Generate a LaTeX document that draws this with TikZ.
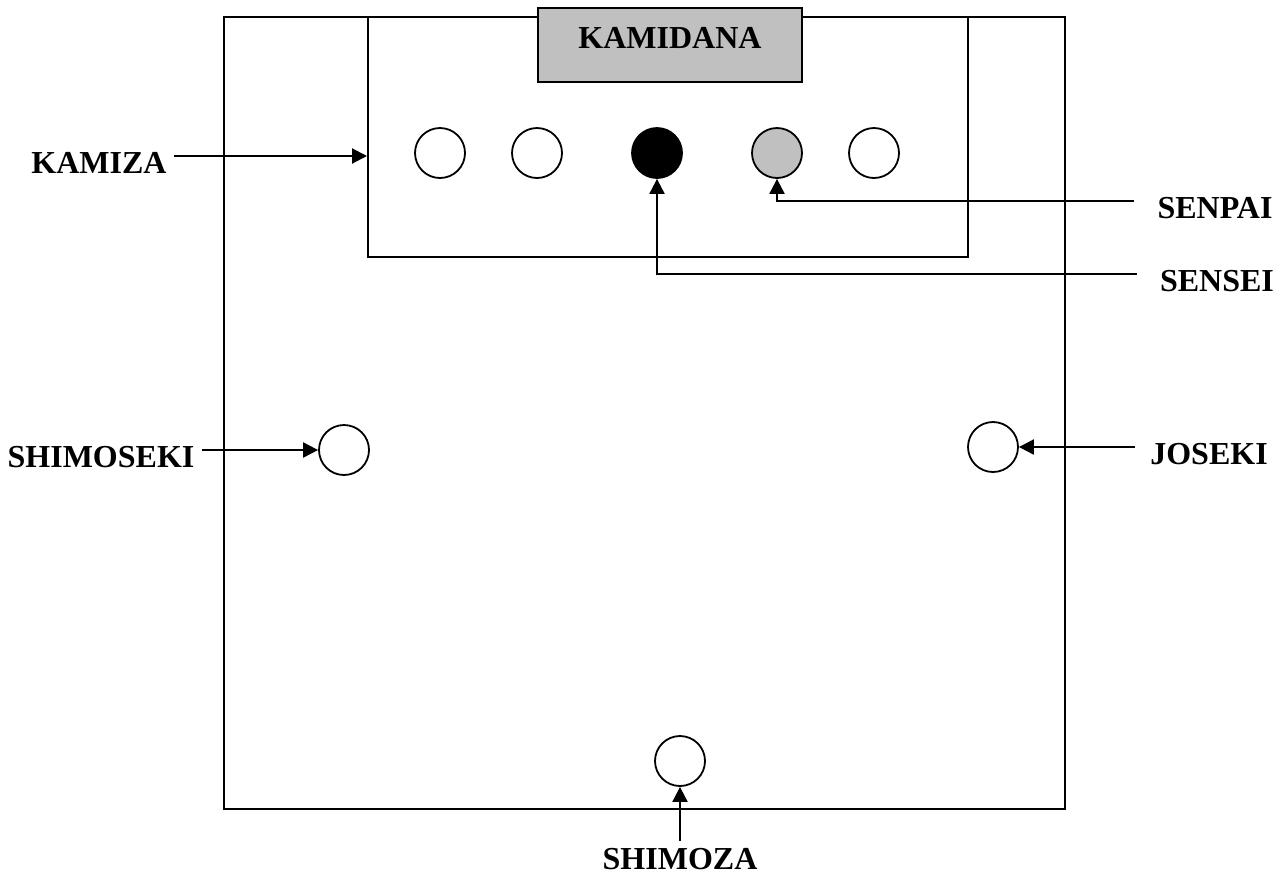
\documentclass[tikz,border=0pt]{standalone}
\usepackage{fontspec}
\setmainfont{Liberation Serif}
\usetikzlibrary{arrows.meta, positioning}
\definecolor{dojo-gray}{RGB}{192, 192, 192}

\begin{document}
\begin{tikzpicture}[x=0.5pt, y=-0.5pt,
  seat/.style={circle, draw, line width=0.9pt, minimum size=25pt, inner sep=0pt},
  lbl/.style={font=\fontsize{16}{19}\selectfont\bfseries, inner xsep=3.5pt, inner ysep=0pt,
              text height=17.5pt, text depth=0pt},
  box/.style={rectangle, draw, line width=1pt, fill=dojo-gray, minimum width=132pt,
              minimum height=37pt, font=\fontsize{16}{19}\selectfont\bfseries,
              text height=10.6pt, text depth=7pt},
  area/.style={rectangle, draw, line width=1pt, inner sep=0pt},
  arr/.style={-{Triangle[length=7.5pt, width=7.5pt]}, line width=1pt}
]
  \useasboundingbox (0,0) rectangle (1283,874);

  % dojo floor and kamiza
  \node[area, minimum width=420.5pt, minimum height=396pt] (dojo) at (644.5,413) {};
  \node[area, minimum width=300pt, minimum height=120pt] (kamiza) at (668,137) {};
  \node[box] (kamidana) at (670,45) {KAMIDANA};

  % seats
  \node[seat] (s1) at (440,153) {};
  \node[seat] (s2) at (537,153) {};
  \node[seat, fill=black] (sensei) at (657,153) {};
  \node[seat, fill=dojo-gray] (senpai) at (777,153) {};
  \node[seat] (s5) at (874,153) {};
  \node[seat] (shimoseki) at (344,450) {};
  \node[seat] (joseki) at (993,447) {};
  \node[seat] (shimoza) at (680,761) {};

  % labels
  \node[lbl] (lkamiza) at (99,156) {KAMIZA};
  \node[lbl] (lsenpai) at (1215,201) {SENPAI};
  \node[lbl] (lsensei) at (1217,274) {SENSEI};
  \node[lbl] (lshimoseki) at (101,450) {SHIMOSEKI};
  \node[lbl] (ljoseki) at (1209,447) {JOSEKI};
  \node[lbl, anchor=north, text height=14pt] (lshimoza) at (680,841) {SHIMOZA};

  \draw[arr] (lkamiza.east) -- (lkamiza.east -| kamiza.west);
  \draw[arr, shorten <=8pt] (lsenpai.west) -| (senpai.south);
  \draw[arr, shorten <=8pt] (lsensei.west) -| (sensei.south);
  \draw[arr] (lshimoseki.east) -- (shimoseki.west);
  \draw[arr, shorten <=4pt] (ljoseki.west) -- (joseki.east);
  \draw[arr] (lshimoza.north) -- (shimoza.south);
\end{tikzpicture}
\end{document}
